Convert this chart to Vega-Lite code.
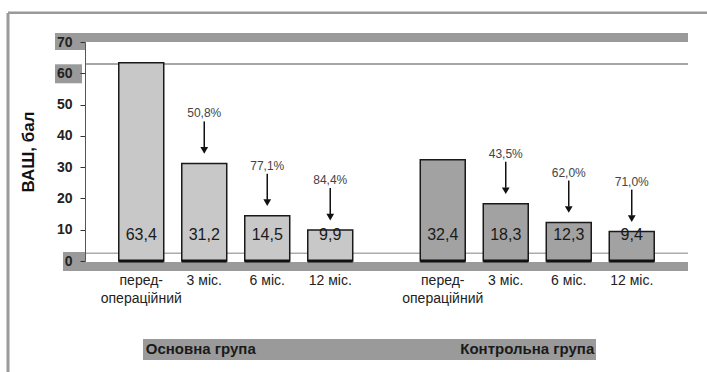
{
  "$schema": "https://vega.github.io/schema/vega-lite/v6.json",
  "width": 603,
  "height": 219,
  "autosize": {"type": "none"},
  "padding": {"left": 85, "top": 42, "right": 19, "bottom": 111},
  "background": "white",
  "config": {
    "view": {"stroke": null},
    "font": "Liberation Sans",
    "axisY": {"tickCount": 10}
  },
  "data": {"values": [
    {"group": "Основна група", "time": "перед-\nопераційний", "value": 63.4, "pct": null},
    {"group": "Основна група", "time": "3 міс.", "value": 31.2, "pct": 0.508},
    {"group": "Основна група", "time": "6 міс.", "value": 14.5, "pct": 0.771},
    {"group": "Основна група", "time": "12 міс.", "value": 9.9, "pct": 0.844},
    {"group": "Контрольна група", "time": "перед-\nопераційний", "value": 32.4, "pct": null},
    {"group": "Контрольна група", "time": "3 міс.", "value": 18.3, "pct": 0.435},
    {"group": "Контрольна група", "time": "6 міс.", "value": 12.3, "pct": 0.62},
    {"group": "Контрольна група", "time": "12 міс.", "value": 9.4, "pct": 0.71}
  ]},
  "transform": [
    {"calculate": "replace(format(datum.value, '.1f'), '.', ',')", "as": "lbl"},
    {"calculate": "datum.pct == null ? '' : replace(format(datum.pct * 100, '.1f'), '.', ',') + '%'", "as": "pctl"}
  ],
  "layer": [
    {
      "data": {"values": [{}]},
      "mark": {"type": "rule", "color": "#9a9a9a", "strokeWidth": 9, "strokeCap": "butt", "yOffset": -4.5},
      "encoding": {"y": {"datum": 70, "type": "quantitative",
              "scale": {"domain": [0, 70], "nice": false, "zero": true},
              "axis": {"values": [0, 10, 20, 30, 40, 50, 60, 70], "tickCount": 10, "grid": false, "zindex": 1, "labelOverlap": false,
                       "title": "ВАШ, бал", "titleFontSize": 17, "titleFontWeight": "bold", "titleColor": "#111", "titlePadding": 19,
                       "labelFontSize": 14, "labelFontWeight": "bold", "labelColor": "#222", "labelPadding": 8,
                       "tickSize": 5, "tickColor": "#333", "domainColor": "#555", "domainWidth": 1}}}
    },
    {
      "data": {"values": [{}]},
      "mark": {"type": "rule", "color": "#9a9a9a", "strokeWidth": 9, "strokeCap": "butt", "yOffset": 5.5},
      "encoding": {"y": {"datum": 0}}
    },
    {
      "data": {"values": [{}]},
      "mark": {"type": "rule", "color": "#8a8a8a", "strokeWidth": 1.5},
      "encoding": {"y": {"datum": 63}}
    },
    {
      "data": {"values": [{}]},
      "mark": {"type": "rule", "color": "#ababab", "strokeWidth": 1.5},
      "encoding": {"y": {"datum": 2.5}}
    },
    {
      "mark": {"type": "bar", "stroke": "#1a1a1a", "strokeWidth": 1.5},
      "encoding": {
        "x": {"field": "group", "type": "nominal", "axis": null,
              "scale": {"domain": ["Основна група", "Контрольна група"], "paddingInner": 0, "paddingOuter": 0}},
        "xOffset": {"field": "time", "type": "nominal",
                    "scale": {"domain": ["перед-\nопераційний", "3 міс.", "6 міс.", "12 міс."], "paddingInner": 0.286, "paddingOuter": 0.536}},
        "y": {"field": "value", "type": "quantitative",
              "axis": {"values": [0, 10, 20, 30, 40, 50, 60, 70], "tickCount": 10, "grid": false, "zindex": 1, "labelOverlap": false,
                       "title": "ВАШ, бал", "titleFontSize": 17, "titleFontWeight": "bold", "titleColor": "#111", "titlePadding": 19,
                       "labelFontSize": 14, "labelFontWeight": "bold", "labelColor": "#222", "labelPadding": 8,
                       "tickSize": 5, "tickColor": "#333", "domainColor": "#555", "domainWidth": 1}},
        "color": {"field": "group", "type": "nominal", "legend": null,
                  "scale": {"domain": ["Основна група", "Контрольна група"], "range": ["#c8c8c8", "#a2a2a2"]}}
      }
    },
    {
      "mark": {"type": "bar", "stroke": "#111", "strokeWidth": 3, "fill": null},
      "encoding": {
        "x": {"field": "group", "type": "nominal"},
        "xOffset": {"field": "time", "type": "nominal"},
        "y": {"datum": 0},
        "y2": {"datum": 0}
      }
    },
    {
      "mark": {"type": "text", "fontSize": 16, "color": "#1a1a1a", "baseline": "middle", "dy": -26},
      "encoding": {
        "x": {"field": "group", "type": "nominal"},
        "xOffset": {"field": "time", "type": "nominal"},
        "y": {"datum": 0},
        "text": {"field": "lbl", "type": "nominal"}
      }
    },
    {
      "mark": {"type": "text", "fontSize": 14, "color": "#222", "baseline": "top", "dy": 13, "lineBreak": "\n", "lineHeight": 18},
      "encoding": {
        "x": {"field": "group", "type": "nominal"},
        "xOffset": {"field": "time", "type": "nominal"},
        "y": {"datum": 0},
        "text": {"field": "time", "type": "nominal"}
      }
    },
    {
      "transform": [{"filter": "datum.pct != null"}],
      "mark": {"type": "text", "fontSize": 12, "color": "#444", "baseline": "middle", "dy": -50},
      "encoding": {
        "x": {"field": "group", "type": "nominal"},
        "xOffset": {"field": "time", "type": "nominal"},
        "y": {"field": "value", "type": "quantitative"},
        "text": {"field": "pctl", "type": "nominal"}
      }
    },
    {
      "transform": [{"filter": "datum.pct != null"}],
      "mark": {"type": "rule", "color": "#111", "strokeWidth": 1.5, "yOffset": -42, "y2Offset": -16},
      "encoding": {
        "x": {"field": "group", "type": "nominal"},
        "xOffset": {"field": "time", "type": "nominal"},
        "y": {"field": "value", "type": "quantitative"},
        "y2": {"field": "value"}
      }
    },
    {
      "transform": [{"filter": "datum.pct != null"}],
      "mark": {"type": "point", "shape": "triangle-down", "filled": true, "color": "#111", "opacity": 1, "size": 60, "yOffset": -13},
      "encoding": {
        "x": {"field": "group", "type": "nominal"},
        "xOffset": {"field": "time", "type": "nominal"},
        "y": {"field": "value", "type": "quantitative"}
      }
    },
    {
      "transform": [{"filter": "datum.group == 'Основна група' && datum.pct == null"}],
      "mark": {"type": "rule", "color": "#9a9a9a", "strokeWidth": 3, "xOffset": -227.75, "yOffset": -29, "y2Offset": 111},
      "encoding": {
        "x": {"field": "group", "type": "nominal"},
        "y": {"datum": 70},
        "y2": {"datum": 0}
      }
    },
    {
      "transform": [{"filter": "datum.group == 'Основна група' && datum.pct == null"}],
      "mark": {"type": "rule", "color": "#9a9a9a", "strokeWidth": 699, "strokeCap": "butt", "xOffset": 121.75, "yOffset": -30.5, "y2Offset": -28},
      "encoding": {
        "x": {"field": "group", "type": "nominal"},
        "y": {"datum": 70},
        "y2": {"datum": 70}
      }
    },
    {
      "transform": [{"filter": "datum.group == 'Основна група' && datum.pct == null"}],
      "mark": {"type": "rule", "color": "#9a9a9a", "strokeWidth": 30, "strokeCap": "butt", "xOffset": -165.75, "yOffset": -9, "y2Offset": 8},
      "encoding": {
        "x": {"field": "group", "type": "nominal"},
        "y": {"datum": 70},
        "y2": {"datum": 70}
      }
    },
    {
      "transform": [{"filter": "datum.group == 'Основна група' && datum.pct == null"}],
      "mark": {"type": "rule", "color": "#9a9a9a", "strokeWidth": 27, "strokeCap": "butt", "xOffset": -167.25, "yOffset": -9, "y2Offset": 10},
      "encoding": {
        "x": {"field": "group", "type": "nominal"},
        "y": {"datum": 60},
        "y2": {"datum": 60}
      }
    },
    {
      "transform": [{"filter": "datum.group == 'Основна група' && datum.pct == null"}],
      "mark": {"type": "rule", "color": "#9a9a9a", "strokeWidth": 22, "strokeCap": "butt", "xOffset": -161.75, "yOffset": -9, "y2Offset": 10},
      "encoding": {
        "x": {"field": "group", "type": "nominal"},
        "y": {"datum": 0},
        "y2": {"datum": 0}
      }
    },
    {
      "transform": [{"filter": "datum.group == 'Основна група' && datum.pct == null"}],
      "mark": {"type": "rule", "color": "#9a9a9a", "strokeWidth": 453, "strokeCap": "butt", "xOffset": 133.75, "yOffset": 78, "y2Offset": 99},
      "encoding": {
        "x": {"field": "group", "type": "nominal"},
        "y": {"datum": 0},
        "y2": {"datum": 0}
      }
    },
    {
      "transform": [{"filter": "datum.group == 'Основна група' && datum.pct == null"}],
      "mark": {"type": "text", "fontSize": 15, "fontWeight": "bold", "color": "#1a1a1a", "baseline": "middle", "dy": 88, "dx": -35},
      "encoding": {
        "x": {"field": "group", "type": "nominal"},
        "y": {"datum": 0},
        "text": {"field": "group", "type": "nominal"}
      }
    },
    {
      "transform": [{"filter": "datum.group == 'Контрольна група' && datum.pct == null"}],
      "mark": {"type": "text", "fontSize": 15, "fontWeight": "bold", "color": "#1a1a1a", "baseline": "middle", "dy": 88, "dx": -10},
      "encoding": {
        "x": {"field": "group", "type": "nominal"},
        "y": {"datum": 0},
        "text": {"field": "group", "type": "nominal"}
      }
    }
  ]
}
